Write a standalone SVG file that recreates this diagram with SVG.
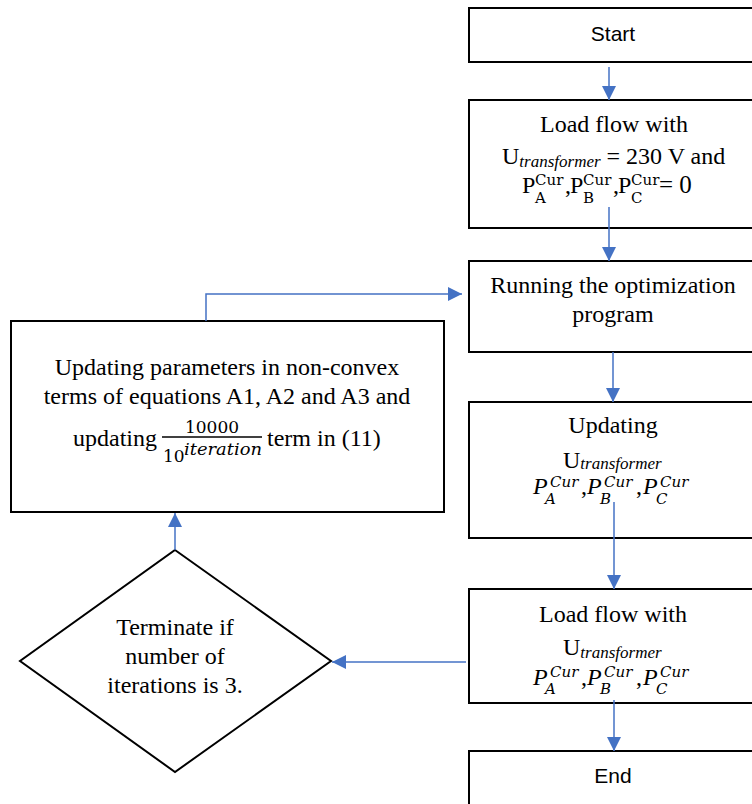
<svg xmlns="http://www.w3.org/2000/svg" width="752" height="804" viewBox="0 0 752 804">
<style>
.box{fill:#fff;stroke:#000;stroke-width:2}
.t{font-family:"Liberation Serif","Times New Roman",serif;font-size:24px;fill:#000}
.c{text-anchor:middle}
.s{font-family:"Liberation Sans",Arial,sans-serif;font-size:21px;fill:#000;text-anchor:middle}
.sub{font-family:"Liberation Serif","Times New Roman",serif;font-size:17px;font-style:italic}
.m{font-family:"DejaVu Serif",serif;font-size:15px;fill:#000}
.mi{font-family:"DejaVu Serif",serif;font-size:15px;font-style:italic;fill:#000}
.pi{font-family:"Liberation Serif","Times New Roman",serif;font-size:24px;font-style:italic;fill:#000}
.conn{fill:none;stroke:#4472C4;stroke-width:1.5}
</style>
<defs>
<marker id="ah" markerUnits="userSpaceOnUse" markerWidth="14" markerHeight="14" refX="14" refY="7" orient="auto">
<path d="M0,0 L14,7 L0,14 z" fill="#4472C4"/>
</marker>
</defs>
<rect width="752" height="804" fill="#fff"/>

<g id="start">
<rect class="box" x="469" y="8" width="300" height="54"/>
<text class="s" x="613" y="41">Start</text>
</g>

<g id="loadflow1">
<rect class="box" x="469" y="100" width="300" height="128"/>
<text class="t c" x="614" y="132">Load flow with</text>
<text class="t" x="502" y="164">U<tspan class="sub" dy="3">transformer</tspan><tspan dy="-3"> = 230 V and</tspan></text>
<text class="t" x="522" y="193">P</text>
<text class="m" x="535" y="185">Cur</text>
<text class="m" x="535" y="203">A</text>
<text class="t" x="565" y="193">,</text>
<text class="t" x="570" y="193">P</text>
<text class="m" x="583" y="185">Cur</text>
<text class="m" x="583" y="203">B</text>
<text class="t" x="613" y="193">,</text>
<text class="t" x="618" y="193">P</text>
<text class="m" x="631" y="185">Cur</text>
<text class="m" x="631" y="203">C</text>
<text class="t" x="659" y="193" style="font-size:25px">= 0</text>
</g>

<g id="optimization">
<rect class="box" x="469" y="261" width="300" height="91"/>
<text class="t c" x="613" y="293">Running the optimization</text>
<text class="t c" x="613" y="322">program</text>
</g>

<g id="updating">
<rect class="box" x="469" y="402" width="300" height="136"/>
<text class="t c" x="613" y="433">Updating</text>
<text class="t" x="563" y="468">U<tspan class="sub" dy="1">transformer</tspan></text>
<text class="pi" x="533" y="494">P</text>
<text class="mi" x="550" y="487">Cur</text>
<text class="mi" x="545" y="504">A</text>
<text class="t" x="581" y="494">,</text>
<text class="pi" x="587" y="494">P</text>
<text class="mi" x="604" y="487">Cur</text>
<text class="mi" x="600" y="504">B</text>
<text class="t" x="636" y="494">,</text>
<text class="pi" x="643" y="494">P</text>
<text class="mi" x="660" y="487">Cur</text>
<text class="mi" x="656" y="504">C</text>
</g>

<g id="loadflow2">
<rect class="box" x="469" y="589" width="300" height="114"/>
<text class="t c" x="613" y="622">Load flow with</text>
<text class="t" x="563" y="655">U<tspan class="sub" dy="3">transformer</tspan></text>
<text class="pi" x="533" y="685">P</text>
<text class="mi" x="550" y="677">Cur</text>
<text class="mi" x="545" y="694">A</text>
<text class="t" x="581" y="685">,</text>
<text class="pi" x="587" y="685">P</text>
<text class="mi" x="604" y="677">Cur</text>
<text class="mi" x="600" y="694">B</text>
<text class="t" x="636" y="685">,</text>
<text class="pi" x="643" y="685">P</text>
<text class="mi" x="660" y="677">Cur</text>
<text class="mi" x="656" y="694">C</text>
</g>

<g id="end">
<rect class="box" x="469" y="751" width="300" height="60"/>
<text class="s" x="613" y="783">End</text>
</g>

<g id="updateparams">
<rect class="box" x="11" y="321" width="433" height="191"/>
<text class="t c" x="227" y="375">Updating parameters in non-convex</text>
<text class="t c" x="227" y="404">terms of equations A1, A2 and A3 and</text>
<text class="t" x="73" y="446">updating</text>
<text class="m" x="212" y="433" text-anchor="middle" style="font-size:17px">10000</text>
<line x1="162" y1="437" x2="262" y2="437" stroke="#000" stroke-width="1.3"/>
<text class="m" x="163" y="462" style="font-size:17px">10</text>
<text class="mi" x="184" y="455" style="font-size:17px" textLength="78" lengthAdjust="spacingAndGlyphs">iteration</text>
<text class="t" x="267" y="446">term in (11)</text>
</g>

<g id="terminate">
<polygon class="box" points="175,550 331,661 175,772 20,661"/>
<text class="t c" x="175" y="635">Terminate if</text>
<text class="t c" x="175" y="664">number of</text>
<text class="t c" x="175" y="693">iterations is 3.</text>
</g>

<g id="connectors">
<path class="conn" d="M609,67 L609,100" marker-end="url(#ah)"/>
<path class="conn" d="M609,207 L609,261" marker-end="url(#ah)"/>
<path class="conn" d="M613,352 L613,402" marker-end="url(#ah)"/>
<path class="conn" d="M614,502 L614,589" marker-end="url(#ah)"/>
<path class="conn" d="M614,700 L614,751" marker-end="url(#ah)"/>
<path class="conn" d="M466,662 L332,662" marker-end="url(#ah)"/>
<path class="conn" d="M175,550 L175,513" marker-end="url(#ah)"/>
<path class="conn" d="M206,321 L206,294 L462,294" marker-end="url(#ah)"/>
</g>
</svg>
